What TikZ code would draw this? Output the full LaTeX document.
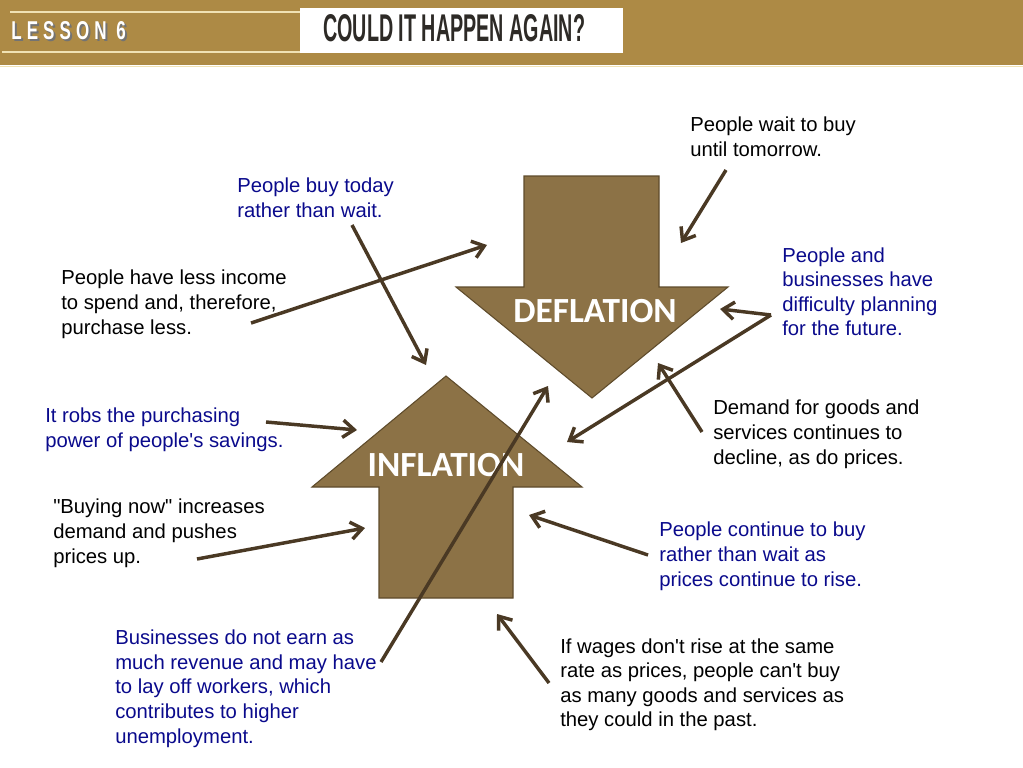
\documentclass[tikz,border=0pt]{standalone}
\usepackage{graphicx}
\usepackage{fontspec}
\setmainfont{Liberation Sans}
\newfontfamily\labelfont{Carlito}
\newfontfamily\lessonfont[LetterSpace=30]{Liberation Sans}
\usetikzlibrary{arrows.meta}
\definecolor{bandgold}{RGB}{173,138,69}
\definecolor{bandline}{RGB}{240,226,180}
\definecolor{titlegrey}{RGB}{45,42,38}
\definecolor{shapefill}{RGB}{140,114,70}
\definecolor{shapeedge}{RGB}{94,75,43}
\definecolor{connbrown}{RGB}{74,57,36}
\definecolor{notenavy}{RGB}{10,10,140}
\tikzset{
  % base is the baseline of the last line
  note/.style={anchor=base west, inner sep=0pt, align=left, font=\fontsize{15.2}{18.4}\selectfont},
  bluenote/.style={note, text=notenavy},
  conn/.style={draw=connbrown, line width=2.6pt, -{Straight Barb[length=8.5pt,width=13pt]}},
  bigarrow/.style={fill=shapefill, draw=shapeedge, line width=0.8pt},
  arrowlabel/.style={text=white, inner sep=0pt, font=\labelfont\bfseries\fontsize{26.5}{30}\selectfont}
}

\begin{document}
\begin{tikzpicture}[x=0.75pt, y=-0.75pt]
  \useasboundingbox (0,0) rectangle (1023,767);
  % header band
  \fill[bandgold] (0,0) rectangle (1023,65);
  \draw[bandline, line width=0.4pt] (0,66) -- (1023,66);
  \draw[bandline, line width=0.9pt] (10,12) -- (300,12);
  \draw[bandline, line width=0.9pt] (2,52) -- (300,52);
  \fill[white] (300,8) rectangle (623,53);
  \node (lessonshadow) [anchor=base west, inner sep=0pt, text=black!55] at (13,42)
    {\resizebox{86pt}{13.5pt}{\lessonfont\bfseries LESSON 6}};
  \node (lesson) [anchor=base west, inner sep=0pt, text=white] at (11,40)
    {\resizebox{86pt}{13.5pt}{\lessonfont\bfseries LESSON 6}};
  \node (title) [anchor=base west, inner sep=0pt, text=titlegrey] at (323,42)
    {\resizebox{196.5pt}{20.25pt}{\bfseries COULD IT HAPPEN AGAIN?}};

  % the two big arrows
  \draw[bigarrow] (524,176) -- (659,176) -- (659,287) -- (728,287) -- (592,398)
    -- (456,287) -- (524,287) -- cycle;
  \node[arrowlabel] (defl) at (595,311) {DEFLATION};
  \draw[bigarrow] (446,376) -- (582,487) -- (513,487) -- (513,598) -- (379,598)
    -- (379,487) -- (312,487) -- cycle;
  \node[arrowlabel] (infl) at (446,465) {INFLATION};

  % notes
  \node[note] (wait) at (690,156.5) {People wait to buy\\until tomorrow.};
  \node[bluenote] (today) at (237,217.5) {People buy today\\rather than wait.};
  \node[note] (income) at (61,334) {People have less income\\to spend and, therefore,\\purchase less.};
  \node[bluenote] (plan) at (782,335.6) {People and\\businesses have\\difficulty planning\\for the future.};
  \node[bluenote] (robs) at (45,447.5) {It robs the purchasing\\power of people\textquotesingle s savings.};
  \node[note] (demand) at (713,464) {Demand for goods and\\services continues to\\decline, as do prices.};
  \node[note] (now) at (53,563) {\textquotedbl Buying now\textquotedbl{} increases\\demand and pushes\\prices up.};
  \node[bluenote] (rise) at (659,586) {People continue to buy\\rather than wait as\\prices continue to rise.};
  \node[bluenote] (revenue) at (115,743) {Businesses do not earn as\\much revenue and may have\\to lay off workers, which\\contributes to higher\\unemployment.};
  \node[note] (wages) at (560,726.6) {If wages don\textquotesingle t rise at the same\\rate as prices, people can\textquotesingle t buy\\as many goods and services as\\they could in the past.};

  % connector ends
  \coordinate (waitS) at (726,170);   \coordinate (waitE) at (681,243);
  \coordinate (todayS) at (352,225);  \coordinate (todayE) at (426,365);
  \coordinate (incomeS) at (251,323); \coordinate (incomeE) at (487,245);
  \coordinate (planS) at (771,315);   \coordinate (planE) at (720,309);
  \coordinate (planF) at (567,442);
  \coordinate (demandS) at (702,432); \coordinate (demandE) at (658,363);
  \coordinate (robsS) at (266,422);   \coordinate (robsE) at (357,430);
  \coordinate (nowS) at (197,559);    \coordinate (nowE) at (365,528);
  \coordinate (riseS) at (648,555);   \coordinate (riseE) at (529,515);
  \coordinate (revS) at (381,662);    \coordinate (revE) at (548,386);
  \coordinate (wagesS) at (549,683);  \coordinate (wagesE) at (497,614);
  \foreach \s/\e in {waitS/waitE, todayS/todayE, incomeS/incomeE, planS/planE,
      planS/planF, demandS/demandE, robsS/robsE, nowS/nowE, riseS/riseE,
      revS/revE, wagesS/wagesE}
    \draw[conn] (\s) -- (\e);
\end{tikzpicture}
\end{document}
